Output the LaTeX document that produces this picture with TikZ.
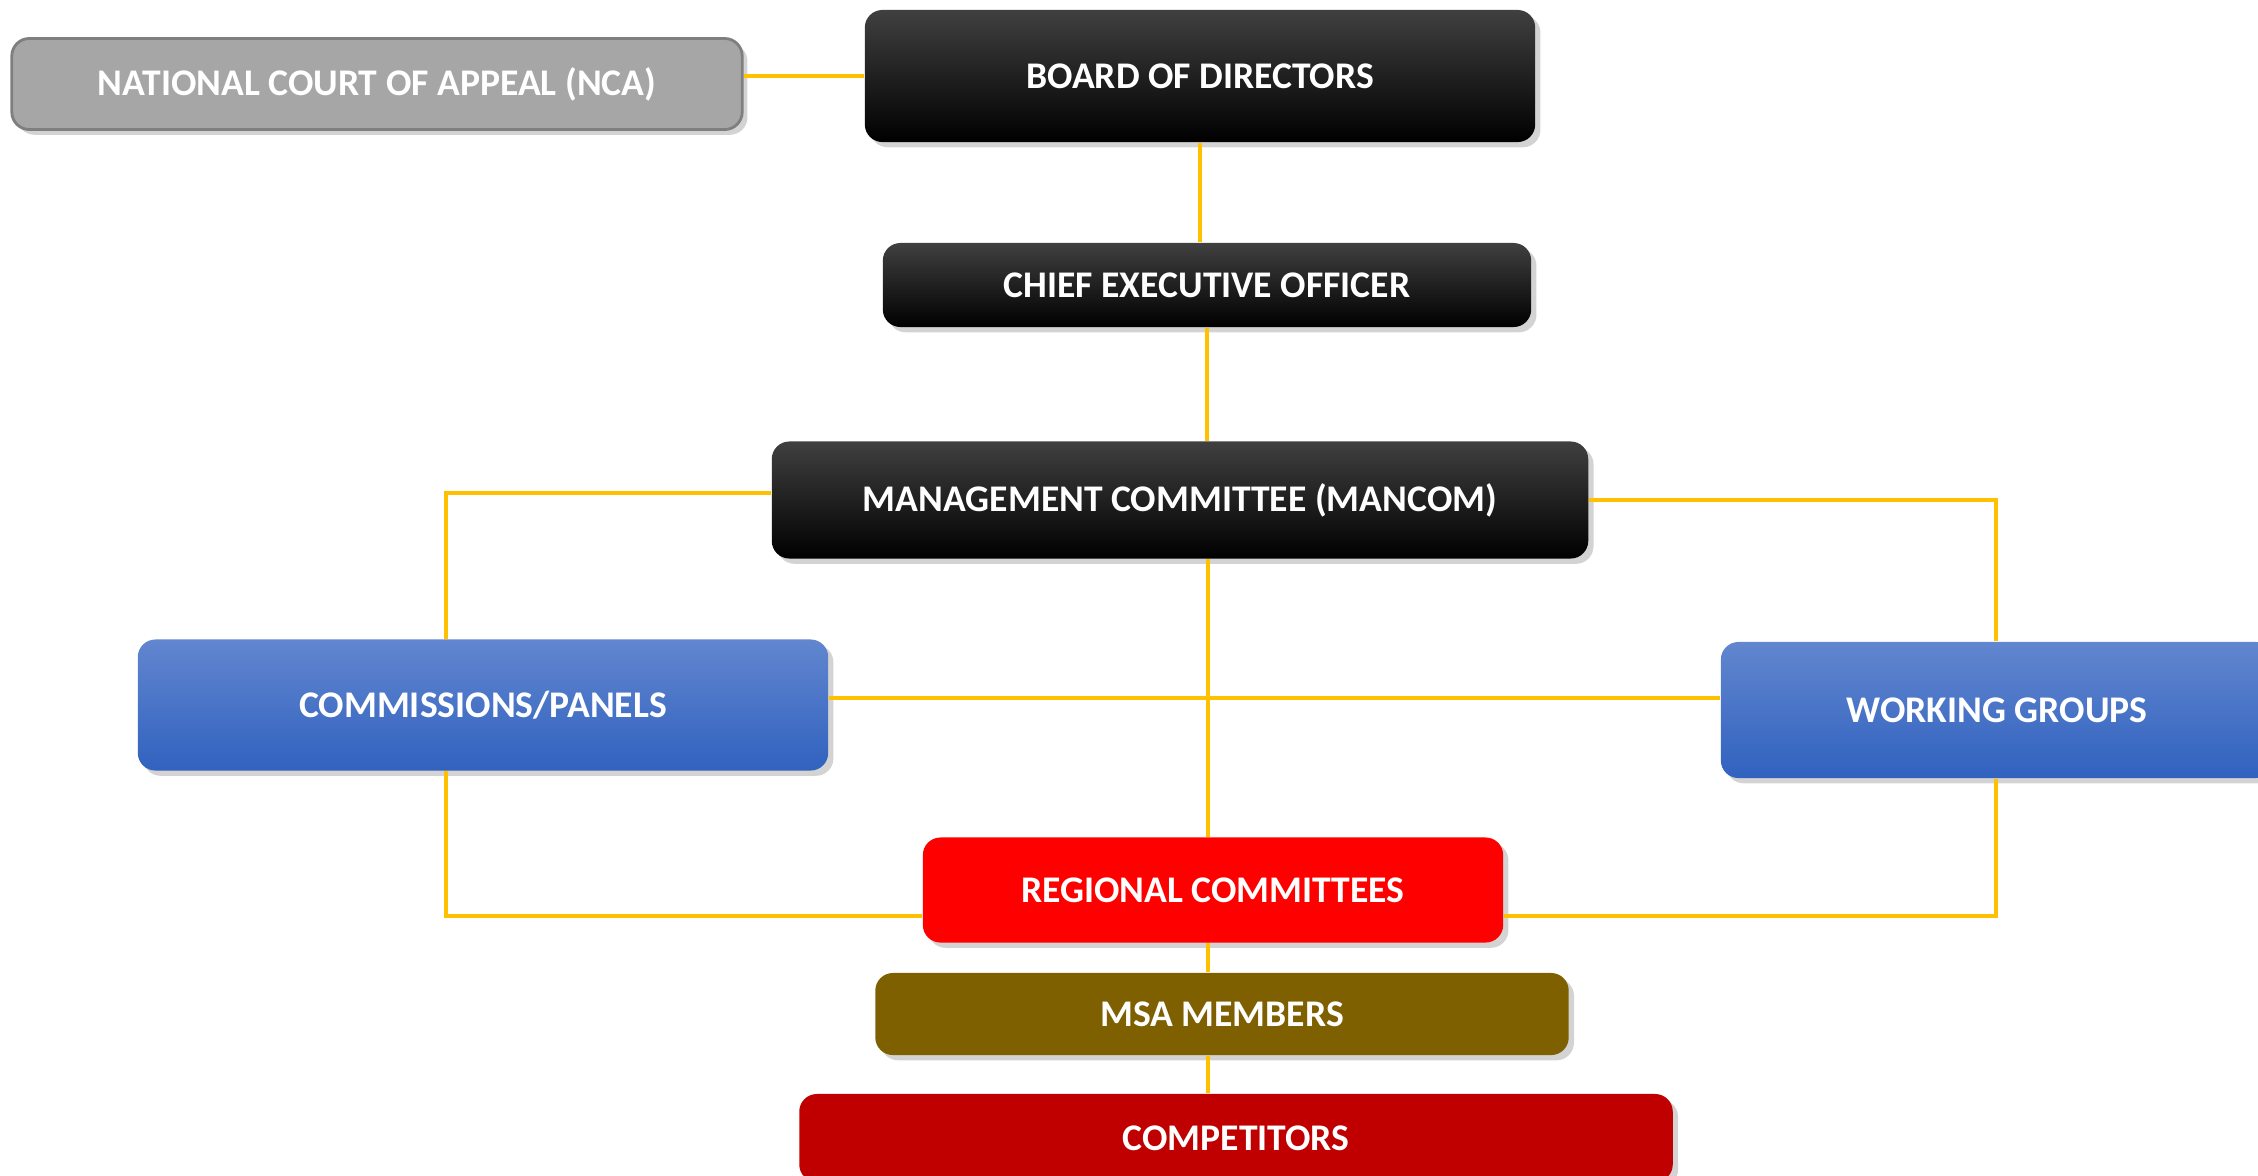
\documentclass[tikz,border=0pt]{standalone}
\usepackage{fontspec}
\setmainfont{Carlito}
\usepackage{xcolor}
\usetikzlibrary{positioning, shadows, calc}

\definecolor{linkgold}{HTML}{FFC000}
\definecolor{ncagray}{HTML}{A6A6A6}
\definecolor{ncaedge}{HTML}{7F7F7F}
\definecolor{bluetop}{HTML}{6286CF}
\definecolor{bluebot}{HTML}{3062BF}
\definecolor{regred}{HTML}{FF0000}
\definecolor{msaolive}{HTML}{7F6000}
\definecolor{compred}{HTML}{C00000}

\begin{document}
\begin{tikzpicture}[x=0.01cm, y=-0.01cm,
    orgbox/.style={rectangle, rounded corners=5pt, text=white, align=center, inner sep=0pt,
        font=\bfseries\fontsize{10.7}{13}\selectfont,
        drop shadow={opacity=0.35, shadow xshift=1.5pt, shadow yshift=-1.5pt}},
    blackbox/.style={orgbox, top color=black!75, middle color=black, bottom color=black},
    bluebox/.style={orgbox, top color=bluetop, bottom color=bluebot},
    link/.style={draw=linkgold, line width=1pt}]
    \useasboundingbox (0,0) rectangle (2258,1175);

    % columns and rows the connectors run along
    \coordinate (lcol) at (446,0);
    \coordinate (rcol) at (1996,0);
    \coordinate (ccol) at (1208,0);
    \coordinate (midrow) at (0,698);
    \coordinate (lowrow) at (0,916);

    \node (nca) [orgbox, fill=ncagray, draw=ncaedge, line width=0.8pt, minimum width=7.30cm, minimum height=0.91cm] at (377,84) {NATIONAL COURT OF APPEAL (NCA)};
    \node (board) [blackbox, minimum width=6.70cm, minimum height=1.32cm] at (1200,76) {BOARD OF DIRECTORS};
    \node (ceo) [blackbox, minimum width=6.48cm, minimum height=0.84cm] at (1207,285) {CHIEF EXECUTIVE OFFICER};
    \node (mancom) [blackbox, minimum width=8.16cm, minimum height=1.17cm] at (1180,500) {MANAGEMENT COMMITTEE (MANCOM)};
    \node (panels) [bluebox, minimum width=6.90cm, minimum height=1.31cm] at (483,705) {COMMISSIONS/PANELS};
    \node (groups) [bluebox, minimum width=5.52cm, minimum height=1.36cm] at (1997,710) {WORKING GROUPS};
    \node (regional) [orgbox, fill=regred, minimum width=5.80cm, minimum height=1.05cm] at (1213,890) {REGIONAL COMMITTEES};
    \node (members) [orgbox, fill=msaolive, minimum width=6.93cm, minimum height=0.82cm] at (1222,1014) {MSA MEMBERS};
    \node (comp) [orgbox, fill=compred, minimum width=8.73cm, minimum height=0.88cm] at (1236,1138) {COMPETITORS};

    \draw [link] (board.west) -- (board.west -| nca.east);
    \draw [link] (board.south) -- (board.south |- ceo.north);
    \draw [link] (ceo.south) -- (ceo.south |- mancom.north);
    \draw [link] ([yshift=2pt]mancom.west) -- ([yshift=2pt]mancom.west -| lcol) -- (lcol |- panels.north);
    \draw [link] (mancom.east) -- (mancom.east -| rcol) -- (rcol |- groups.north);
    \draw [link] (panels.east |- midrow) -- (groups.west |- midrow);
    \draw [link] (ccol |- mancom.south) -- (ccol |- regional.north);
    \draw [link] (lcol |- panels.south) -- (lcol |- lowrow) -- (regional.west |- lowrow);
    \draw [link] (regional.east |- lowrow) -- (rcol |- lowrow) -- (rcol |- groups.south);
    \draw [link] (ccol |- regional.south) -- (ccol |- members.north);
    \draw [link] (ccol |- members.south) -- (ccol |- comp.north);
\end{tikzpicture}
\end{document}
